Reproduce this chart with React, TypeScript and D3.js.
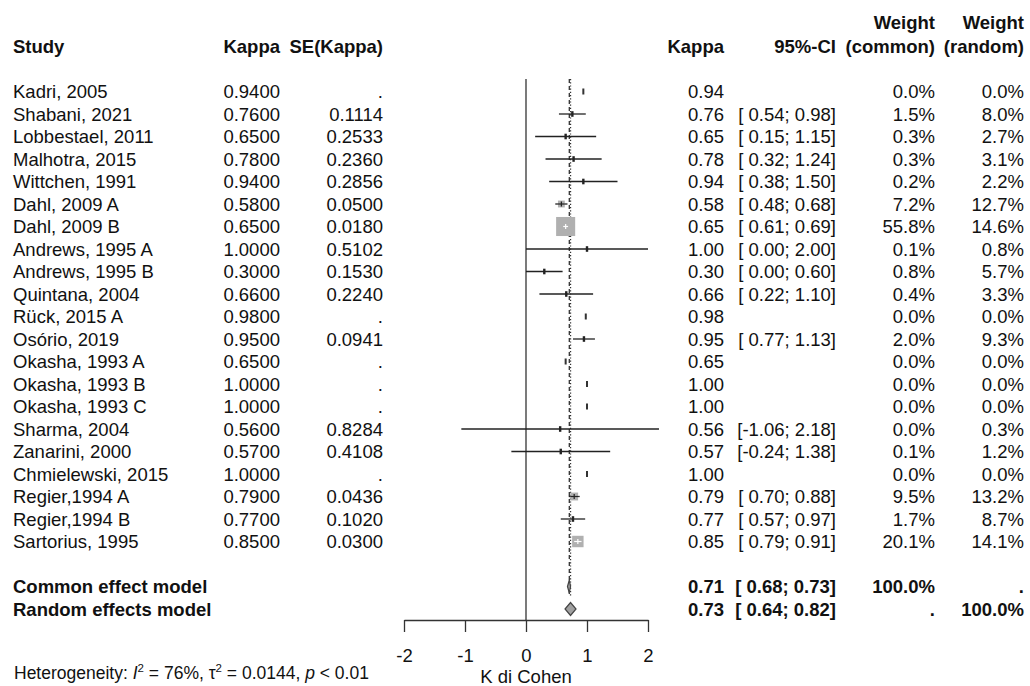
import React, { useEffect, useRef } from "react";
import * as d3 from "d3";

const studies = [
  "Kadri, 2005", "Shabani, 2021", "Lobbestael, 2011", "Malhotra, 2015", "Wittchen, 1991",
  "Dahl, 2009 A", "Dahl, 2009 B", "Andrews, 1995 A", "Andrews, 1995 B", "Quintana, 2004",
  "Rück, 2015 A", "Osório, 2019", "Okasha, 1993 A", "Okasha, 1993 B", "Okasha, 1993 C",
  "Sharma, 2004", "Zanarini, 2000", "Chmielewski, 2015", "Regier,1994 A", "Regier,1994 B",
  "Sartorius, 1995",
];
const kappa = [0.94, 0.76, 0.65, 0.78, 0.94, 0.58, 0.65, 1.0, 0.3, 0.66, 0.98, 0.95, 0.65, 1.0, 1.0, 0.56, 0.57, 1.0, 0.79, 0.77, 0.85];
const seKappa = [null, 0.1114, 0.2533, 0.236, 0.2856, 0.05, 0.018, 0.5102, 0.153, 0.224, null, 0.0941, null, null, null, 0.8284, 0.4108, null, 0.0436, 0.102, 0.03];
const ciLow = [null, 0.54, 0.15, 0.32, 0.38, 0.48, 0.61, 0.0, 0.0, 0.22, null, 0.77, null, null, null, -1.06, -0.24, null, 0.7, 0.57, 0.79];
const ciHigh = [null, 0.98, 1.15, 1.24, 1.5, 0.68, 0.69, 2.0, 0.6, 1.1, null, 1.13, null, null, null, 2.18, 1.38, null, 0.88, 0.97, 0.91];
const weightCommon = [0.0, 1.5, 0.3, 0.3, 0.2, 7.2, 55.8, 0.1, 0.8, 0.4, 0.0, 2.0, 0.0, 0.0, 0.0, 0.0, 0.1, 0.0, 9.5, 1.7, 20.1];
const weightRandom = [0.0, 8.0, 2.7, 3.1, 2.2, 12.7, 14.6, 0.8, 5.7, 3.3, 0.0, 9.3, 0.0, 0.0, 0.0, 0.3, 1.2, 0.0, 13.2, 8.7, 14.1];

const models = ["Common effect model", "Random effects model"];
const modelEst = [0.71, 0.73];
const modelLow = [0.68, 0.64];
const modelHigh = [0.73, 0.82];
const modelWc = ["100.0%", "."];
const modelWr = [".", "100.0%"];

const xTicks = [-2, -1, 0, 1, 2];

const FONT = "Arial, 'Liberation Sans', Helvetica, sans-serif";
const FS = 18.5;

const fmtCI = (v: number) => (v < 0 ? "" : " ") + v.toFixed(2);

export default function App() {
  const axisRef = useRef<SVGGElement>(null);
  const width = 1030;
  const height = 686;

  const x = d3.scaleLinear().domain([-2, 2]).range([404, 648]);
  const y = d3.scaleLinear().domain([0, 23]).range([91.5, 609]);
  const axisY = 620;

  useEffect(() => {
    const g = d3.select(axisRef.current);
    g.selectAll("*").remove();
    g.call(d3.axisBottom(x).tickValues(xTicks).tickSize(12).tickSizeOuter(0).tickPadding(17).tickFormat((d: any) => String(d)) as any);
    g.select(".domain").attr("stroke", "#333").attr("stroke-width", 1.3);
    g.selectAll(".tick line").attr("stroke", "#333").attr("stroke-width", 1.3);
    g.selectAll(".tick text").attr("font-size", FS).attr("font-family", FONT).attr("fill", "#111");
  }, []);

  const cols = { study: 13, kappaL: 280, se: 383, kappaR: 724, ci: 836, wc: 935, wr: 1024 };
  const base = (i: number) => y(i) + 6.5;

  return (
    <svg width={width} height={height} style={{ position: "absolute", left: 0, top: 0, background: "#fff" }}
      fontFamily={FONT} fontSize={FS} fill="#111">
      {/* headers */}
      <g fontWeight="bold">
        <text x={cols.study} y={53}>Study</text>
        <text x={cols.kappaL} y={53} textAnchor="end">Kappa</text>
        <text x={cols.se} y={53} textAnchor="end">SE(Kappa)</text>
        <text x={cols.kappaR} y={53} textAnchor="end">Kappa</text>
        <text x={cols.ci} y={53} textAnchor="end">95%-CI</text>
        <text x={cols.wc} y={29} textAnchor="end">Weight</text>
        <text x={cols.wc} y={53} textAnchor="end">(common)</text>
        <text x={cols.wr} y={29} textAnchor="end">Weight</text>
        <text x={cols.wr} y={53} textAnchor="end">(random)</text>
      </g>

      {/* study rows */}
      {studies.map((s, i) => (
        <g key={s}>
          <text x={cols.study} y={base(i)}>{s}</text>
          <text x={cols.kappaL} y={base(i)} textAnchor="end">{kappa[i].toFixed(4)}</text>
          <text x={cols.se} y={base(i)} textAnchor="end">{seKappa[i] == null ? "." : (seKappa[i] as number).toFixed(4)}</text>
          <text x={cols.kappaR} y={base(i)} textAnchor="end">{kappa[i].toFixed(2)}</text>
          {ciLow[i] != null && (
            <text x={cols.ci} y={base(i)} textAnchor="end" xmlSpace="preserve">
              {"[" + fmtCI(ciLow[i] as number) + "; " + (ciHigh[i] as number).toFixed(2) + "]"}
            </text>
          )}
          <text x={cols.wc} y={base(i)} textAnchor="end">{weightCommon[i].toFixed(1) + "%"}</text>
          <text x={cols.wr} y={base(i)} textAnchor="end">{weightRandom[i].toFixed(1) + "%"}</text>
        </g>
      ))}

      {/* model rows */}
      {models.map((m, j) => {
        const r = 22 + j;
        return (
          <g key={m} fontWeight="bold">
            <text x={cols.study} y={base(r)}>{m}</text>
            <text x={cols.kappaR} y={base(r)} textAnchor="end">{modelEst[j].toFixed(2)}</text>
            <text x={cols.ci} y={base(r)} textAnchor="end" xmlSpace="preserve">
              {"[" + fmtCI(modelLow[j]) + "; " + modelHigh[j].toFixed(2) + "]"}
            </text>
            <text x={cols.wc} y={base(r)} textAnchor="end">{modelWc[j]}</text>
            <text x={cols.wr} y={base(r)} textAnchor="end">{modelWr[j]}</text>
          </g>
        );
      })}

      {/* null line */}
      <line x1={x(0)} x2={x(0)} y1={79} y2={axisY} stroke="#333" strokeWidth={1.3} />
      {/* pooled lines */}
      <line x1={x(modelEst[0])} x2={x(modelEst[0])} y1={79} y2={596} stroke="#333" strokeWidth={1.3} strokeDasharray="4,3" />
      <line x1={x(modelEst[1])} x2={x(modelEst[1])} y1={79} y2={596} stroke="#333" strokeWidth={1.3} strokeDasharray="1.2,2" />

      {/* study marks */}
      {studies.map((s, i) => {
        const cy = y(i);
        const cx = x(kappa[i]);
        if (ciLow[i] == null) {
          return <rect key={s} x={cx - 1} y={cy - 3} width={2} height={6} fill="#333" />;
        }
        const side = 2.55 * Math.sqrt(weightCommon[i]);
        const lo = x(ciLow[i] as number);
        const hi = x(ciHigh[i] as number);
        if (side < 5) {
          return (
            <g key={s}>
              <line x1={lo} x2={hi} y1={cy} y2={cy} stroke="#222" strokeWidth={1.3} />
              <rect x={cx - 1.2} y={cy - 2.8} width={2.4} height={5.6} fill="#222" />
            </g>
          );
        }
        const inner = side >= 10 ? "#fff" : "#222";
        const iLo = Math.max(lo, cx - side / 2);
        const iHi = Math.min(hi, cx + side / 2);
        return (
          <g key={s}>
            <line x1={lo} x2={hi} y1={cy} y2={cy} stroke="#222" strokeWidth={1.3} />
            <rect x={cx - side / 2} y={cy - side / 2} width={side} height={side} fill="#b0b0b0" />
            <line x1={iLo} x2={iHi} y1={cy} y2={cy} stroke={inner} strokeWidth={1.2} />
            <line x1={cx} x2={cx} y1={cy - 2.5} y2={cy + 2.5} stroke={inner} strokeWidth={1.2} />
          </g>
        );
      })}

      {/* diamonds */}
      {models.map((m, j) => {
        const cy = y(22 + j);
        const h = 6.5;
        const pts = [
          [x(modelLow[j]), cy],
          [x(modelEst[j]), cy - h],
          [x(modelHigh[j]), cy],
          [x(modelEst[j]), cy + h],
        ];
        return <polygon key={m} points={pts.map((p) => p.join(",")).join(" ")} fill="#a0a0a0" stroke="#444" strokeWidth={1.2} />;
      })}

      {/* axis */}
      <g ref={axisRef} transform={`translate(0,${axisY})`} />
      <text x={x(0)} y={683} textAnchor="middle">K di Cohen</text>

      {/* heterogeneity */}
      <text x={14} y={679} fontSize={17.5} xmlSpace="preserve">
        {"Heterogeneity: "}
        <tspan fontStyle="italic">I</tspan>
        <tspan fontSize={11.5} dy={-7}>2</tspan>
        <tspan dy={7}>{" = 76%, τ"}</tspan>
        <tspan fontSize={11.5} dy={-7}>2</tspan>
        <tspan dy={7}>{" = 0.0144, "}</tspan>
        <tspan fontStyle="italic">p</tspan>
        {" < 0.01"}
      </text>
    </svg>
  );
}
